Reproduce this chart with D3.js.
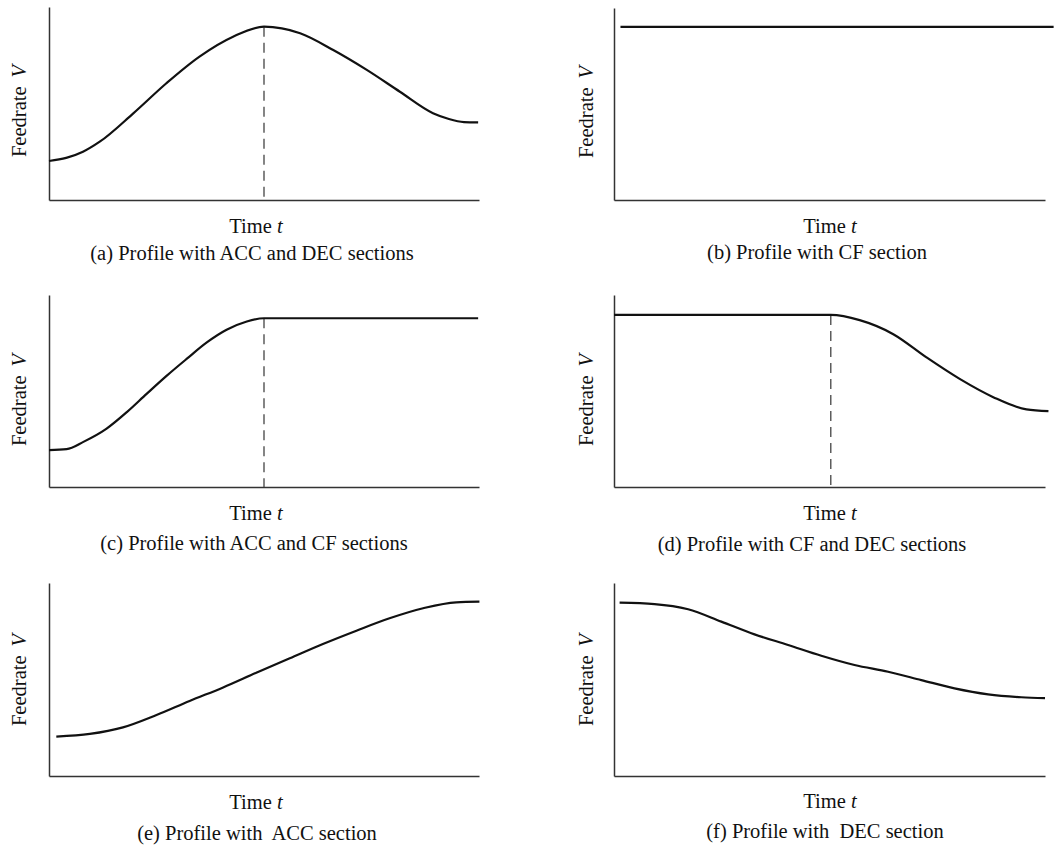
<!DOCTYPE html>
<html>
<head>
<meta charset="utf-8">
<script src="https://cdn.jsdelivr.net/npm/d3@7/dist/d3.min.js"></script>
<style>
  body { margin: 0; background: #fff; }
  text { font-family: "Liberation Serif", "Times New Roman", serif; fill: #111; white-space: pre; }
</style>
</head>
<body>
<div id="chart"></div>
<script>
// feedrate profiles, time and feedrate both in 0..100 arbitrary units
var timeA = [0, 4, 7.9, 11.8, 19.6, 27.3, 35.0, 42.8, 50, 58.4, 66.1, 73.9, 81.6, 89.3, 93, 96.5, 99.8];
var feedA = [20.2, 21.8, 25.0, 30.2, 44.9, 60.5, 74.3, 84.6, 89.8, 86.4, 77.7, 67.4, 56.1, 45.0, 42.0, 40.4, 40.2];

var timeB = [1.5, 102];
var feedB = [90.2, 90.2];

var timeC = [0, 4.1, 8.0, 13.4, 18.1, 22.7, 27.4, 32.0, 36.7, 41.3, 46.0, 50, 75, 99.8];
var feedC = [19.2, 19.7, 23.5, 30.4, 39.0, 48.5, 58.0, 66.7, 75.3, 81.9, 86.2, 87.9, 87.9, 87.9];

var timeD = [0, 25, 50.3, 57.0, 64.8, 72.5, 80.2, 88.0, 95.7, 100.8];
var feedD = [89.6, 89.6, 89.6, 86.9, 79.6, 67.5, 56.3, 46.8, 40.4, 39.5];

var timeE = [1.7, 9.5, 17.2, 25.0, 32.7, 40.5, 48.2, 56.0, 63.7, 71.5, 79.2, 87.0, 94.7, 100.1];
var feedE = [20.4, 21.8, 25.2, 31.6, 38.9, 45.9, 53.5, 61.0, 68.4, 75.3, 81.7, 86.9, 90.0, 90.3];

var timeF = [1.3, 9.4, 17.2, 24.9, 32.6, 40.4, 48.1, 55.8, 63.6, 71.3, 79.0, 86.8, 94.5, 100];
var feedF = [89.8, 89.1, 86.4, 80.0, 73.4, 67.9, 62.3, 57.5, 54.0, 49.7, 45.4, 42.3, 40.8, 40.3];

// dashed switch lines: [time, feedrate]
var switchA = [50, 89.8];
var switchC = [50, 87.9];
var switchD = [50.3, 89.6];

var captions = [
  "(a) Profile with ACC and DEC sections",
  "(b) Profile with CF section",
  "(c) Profile with ACC and CF sections",
  "(d) Profile with CF and DEC sections",
  "(e) Profile with  ACC section",
  "(f) Profile with  DEC section"
];
var yLabel = "Feedrate";
var yVar = "V";
var xLabel = "Time ";
var xVar = "t";

var series = [
  {t: timeA, v: feedA, sw: switchA},
  {t: timeB, v: feedB, sw: null},
  {t: timeC, v: feedC, sw: switchC},
  {t: timeD, v: feedD, sw: switchD},
  {t: timeE, v: feedE, sw: null},
  {t: timeF, v: feedF, sw: null}
];

// panel boxes and text anchors (page pixels)
var layout = [
  {left: 49, top: 7, w: 430, h: 193, ly: 111, lx: 26, tx: 256, ty: 233, cx: 252, cy: 260},
  {left: 614, top: 8, w: 431, h: 192, ly: 112, lx: 593, tx: 830, ty: 233, cx: 817, cy: 259},
  {left: 49, top: 295, w: 430, h: 192, ly: 400, lx: 26, tx: 256, ty: 520, cx: 254, cy: 550},
  {left: 614, top: 295, w: 431, h: 192, ly: 400, lx: 593, tx: 830, ty: 520, cx: 812, cy: 551},
  {left: 49, top: 583, w: 430, h: 193, ly: 680, lx: 26, tx: 256, ty: 809, cx: 257, cy: 840},
  {left: 614, top: 583, w: 431, h: 193, ly: 680, lx: 593, tx: 830, ty: 808, cx: 825, cy: 838}
];

var svg = d3.select("#chart").append("svg")
    .attr("width", 1054)
    .attr("height", 850);

series.forEach(function(s, i) {
  var L = layout[i];
  var x = d3.scaleLinear().domain([0, 100]).range([0, L.w]);
  var y = d3.scaleLinear().domain([0, 100]).range([L.h, 0]);

  var g = svg.append("g")
      .attr("transform", "translate(" + L.left + "," + L.top + ")");

  // axes: plain lines, no ticks
  g.append("g")
      .attr("transform", "translate(0," + L.h + ")")
      .call(d3.axisBottom(x).tickValues([]).tickSizeOuter(0))
    .select(".domain")
      .attr("stroke", "#333")
      .attr("stroke-width", 1.5);
  g.append("g")
      .call(d3.axisLeft(y).tickValues([]).tickSizeOuter(0))
    .select(".domain")
      .attr("stroke", "#333")
      .attr("stroke-width", 1.5);

  if (s.sw) {
    g.append("line")
        .attr("x1", x(s.sw[0])).attr("x2", x(s.sw[0]))
        .attr("y1", y(s.sw[1])).attr("y2", y(0))
        .attr("stroke", "#444")
        .attr("stroke-width", 1.3)
        .attr("stroke-dasharray", "10,6");
  }

  var line = d3.line()
      .x(function(d) { return x(d[0]); })
      .y(function(d) { return y(d[1]); })
      .curve(d3.curveMonotoneX);

  g.append("path")
      .datum(d3.zip(s.t, s.v))
      .attr("d", line)
      .attr("fill", "none")
      .attr("stroke", "#111")
      .attr("stroke-width", 2.2);

  // y label, rotated
  var yl = svg.append("text")
      .attr("transform", "translate(" + L.lx + "," + L.ly + ") rotate(-90)")
      .attr("text-anchor", "middle")
      .style("font-size", "20.5px");
  yl.append("tspan").text(yLabel);
  yl.append("tspan").attr("dx", 9).style("font-style", "italic").text(yVar);

  var xl = svg.append("text")
      .attr("x", L.tx).attr("y", L.ty)
      .attr("text-anchor", "middle")
      .style("font-size", "20.5px");
  xl.append("tspan").text(xLabel);
  xl.append("tspan").style("font-style", "italic").text(xVar);

  svg.append("text")
      .attr("x", L.cx).attr("y", L.cy)
      .attr("text-anchor", "middle")
      .style("font-size", "20.5px")
      .text(captions[i]);
});
</script>
</body>
</html>
